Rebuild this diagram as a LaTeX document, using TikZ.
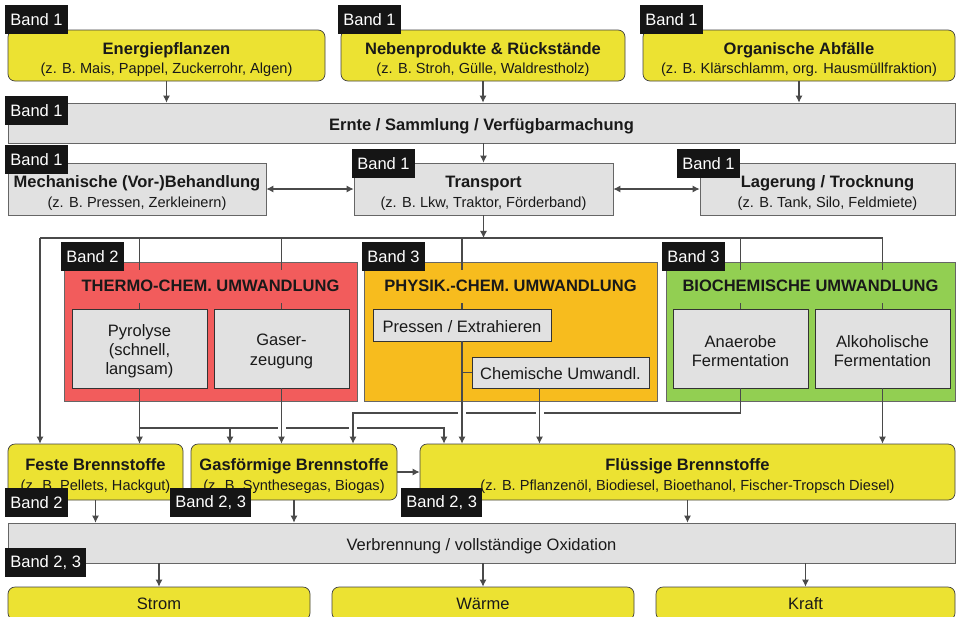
\documentclass[tikz,border=0pt]{standalone}
\usepackage{fontspec}
\setmainfont{Liberation Sans}
\usetikzlibrary{arrows.meta}
\definecolor{boxyellow}{HTML}{ECE232}
\definecolor{boxgray}{HTML}{E1E1E1}
\definecolor{thermored}{HTML}{F25C5C}
\definecolor{physorange}{HTML}{F7BC1E}
\definecolor{biogreen}{HTML}{92CF52}
\definecolor{bandblack}{HTML}{151515}
\definecolor{linegray}{HTML}{4A4A4A}
\newcommand{\subtxt}[1]{{\fontsize{8.3}{11}\selectfont #1}}
\newcommand{\lift}[1][11.5pt]{\rule{0pt}{#1}}

\begin{document}
\begin{tikzpicture}[
    x=0.02cm, y=-0.02cm,
    sz/.style 2 args={minimum width=#1*0.02cm, minimum height=#2*0.02cm},
    base/.style={inner sep=0pt, align=center, text=black!90, font=\fontsize{9.4}{11}\selectfont},
    ybox/.style={base, draw=black!75, fill=boxyellow, rounded corners=0.14cm},
    gbox/.style={base, draw=black!60, fill=boxgray},
    ibox/.style={base, draw=black!80, fill=boxgray},
    cbox/.style={draw=black!60, inner sep=0pt},
    gtitle/.style={base, font=\bfseries\fontsize{9.4}{11}\selectfont, minimum height=0.66cm, inner xsep=2pt},
    band/.style={fill=bandblack, text=white, anchor=north west, inner xsep=0.1cm, inner ysep=0pt,
                 minimum height=0.57cm, font=\fontsize{9.4}{11}\selectfont},
    conn/.style={draw=linegray, line width=0.6pt},
    arr/.style={conn, -{Latex[length=4pt,width=4pt]}},
    darr/.style={conn, {Latex[length=4pt,width=4pt]}-{Latex[length=4pt,width=4pt]}},
    hop/.style={draw=white, line width=0.16cm}
  ]
  \useasboundingbox (0,0) rectangle (957,616);

  \node[ybox, sz={317}{51}] (energie) at (166.5,55.5) {\lift{\bfseries Energiepflanzen}\\\subtxt{(z. B. Mais, Pappel, Zuckerrohr, Algen)}};
  \node[ybox, sz={284}{51}] (neben) at (483,55.5) {\lift{\bfseries Nebenprodukte \& Rückstände}\\\subtxt{(z. B. Stroh, Gülle, Waldrestholz)}};
  \node[ybox, sz={312}{51}] (organ) at (799,55.5) {\lift{\bfseries Organische Abfälle}\\\subtxt{(z. B. Klärschlamm, org. Hausmüllfraktion)}};
  \node[gbox, sz={947}{40}] (ernte) at (481.5,123) {\lift[10.5pt]\bfseries Ernte / Sammlung / Verfügbarmachung};
  \node[gbox, sz={258}{52}] (mech) at (137,189) {\lift{\bfseries Mechanische (Vor-)Behandlung}\\\subtxt{(z. B. Pressen, Zerkleinern)}};
  \node[gbox, sz={259}{52}] (trans) at (483.5,189) {\lift{\bfseries Transport}\\\subtxt{(z. B. Lkw, Traktor, Förderband)}};
  \node[gbox, sz={255}{52}] (lager) at (827.5,189) {\lift{\bfseries Lagerung / Trocknung}\\\subtxt{(z. B. Tank, Silo, Feldmiete)}};

  \node[cbox, fill=thermored, sz={293}{139}] (thermo) at (210.5,331.5) {};
  \node[cbox, fill=physorange, sz={293}{139}] (physik) at (510.5,331.5) {};
  \node[cbox, fill=biogreen, sz={289}{139}] (bio) at (810.5,331.5) {};
  \node[ibox, sz={135}{79}] (pyro) at (139.5,348.5) {\lift[9.8pt]Pyrolyse\\(schnell,\\langsam)};
  \node[ibox, sz={135}{79}] (gaser) at (281.5,348.5) {\lift[9.8pt]Gaser-\\zeugung};
  \node[ibox, sz={178}{32}] (pressen) at (462,325) {\lift[8.2pt]Pressen / Extrahieren};
  \node[ibox, sz={177}{31}] (chem) at (560.5,372.5) {\lift[8.2pt]Chemische Umwandl.};
  \node[ibox, sz={135}{79}] (anaer) at (740.5,348.5) {\lift[9.8pt]Anaerobe\\Fermentation};
  \node[ibox, sz={135}{79}] (alkoh) at (882.5,348.5) {\lift[9.8pt]Alkoholische\\Fermentation};

  \node[ybox, sz={175}{56}] (feste) at (95.5,472) {\lift{\bfseries Feste Brennstoffe}\\\subtxt{(z. B. Pellets, Hackgut)}};
  \node[ybox, sz={206}{56}] (gasf) at (294,472) {\lift{\bfseries Gasförmige Brennstoffe}\\\subtxt{(z. B. Synthesegas, Biogas)}};
  \node[ybox, sz={535}{56}] (fluess) at (687.5,472) {\lift{\bfseries Flüssige Brennstoffe}\\\subtxt{(z. B. Pflanzenöl, Biodiesel, Bioethanol, Fischer-Tropsch Diesel)}};
  \node[gbox, sz={947}{40}] (verbr) at (481.5,543) {\lift[10.5pt]Verbrennung / vollständige Oxidation};
  \node[ybox, sz={302}{33}] (strom) at (159,603.5) {Strom};
  \node[ybox, sz={302}{33}] (waerme) at (483,603.5) {Wärme};
  \node[ybox, sz={299}{33}] (kraft) at (805.5,603.5) {Kraft};

  \coordinate (busL) at (40,238);
  \coordinate (busR) at (882.5,238);
  \coordinate (pbA) at (139.5,428);
  \coordinate (pbB) at (230,428);
  \coordinate (pbC) at (444,428);
  \coordinate (ab) at (353,413);
  \coordinate (chemout) at ([xshift=-0.42cm]chem.south);

  \draw[arr] (energie) -- (energie |- ernte.north);
  \draw[arr] (neben) -- (neben |- ernte.north);
  \draw[arr] (organ) -- (organ |- ernte.north);
  \draw[arr] (trans |- ernte.south) -- (trans.north);
  \draw[darr] (mech.east) -- (trans.west);
  \draw[darr] (trans.east) -- (lager.west);
  \draw[arr] (trans.south) -- (trans |- busL);
  \draw[conn] (busL) -- (busR);
  \draw[arr] (busL) -- (busL |- feste.north);
  \draw[conn] (pyro |- busL) -- (pyro.north);
  \draw[conn] (gaser |- busL) -- (gaser.north);
  \draw[conn] (pressen |- busL) -- (pressen.north);
  \draw[conn] (anaer |- busL) -- (anaer.north);
  \draw[conn] (busR) -- (alkoh.north);

  \draw[arr] (pyro.south) -- (pyro.south |- feste.north);
  \draw[arr] (pbA) -| (pbC |- fluess.north);
  \draw[arr] (pbB) -- (pbB |- gasf.north);
  \draw[hop] (gaser.south |- pbA) ++(0,-3) -- ++(0,6);
  \draw[hop] (ab |- pbA) ++(0,-3) -- ++(0,6);
  \draw[arr] (anaer.south) |- (ab) -- (ab |- gasf.north);
  \draw[hop] (pressen.south |- ab) ++(0,-3) -- ++(0,6);
  \draw[hop] (chemout |- ab) ++(0,-3) -- ++(0,6);
  \draw[arr] (gaser.south) -- (gaser.south |- gasf.north);
  \draw[arr] (pressen.south) -- (pressen.south |- fluess.north);
  \draw[conn] (pressen.south |- chem.west) -- (chem.west);
  \draw[arr] (chemout) -- (chemout |- fluess.north);
  \draw[arr] (alkoh.south) -- (alkoh.south |- fluess.north);
  \draw[arr] (gasf.east) -- (fluess.west |- gasf.east);

  \draw[arr] (feste.south) -- (feste.south |- verbr.north);
  \draw[arr] (gasf.south) -- (gasf.south |- verbr.north);
  \draw[arr] (fluess.south) -- (fluess.south |- verbr.north);
  \draw[arr] (strom |- verbr.south) -- (strom.north);
  \draw[arr] (waerme |- verbr.south) -- (waerme.north);
  \draw[arr] (kraft |- verbr.south) -- (kraft.north);

  \node[gtitle, fill=thermored] (tthermo) at (210.5,286) {THERMO-CHEM. UMWANDLUNG};
  \node[gtitle, fill=physorange] (tphysik) at (510.5,286) {PHYSIK.-CHEM. UMWANDLUNG};
  \node[gtitle, fill=biogreen] (tbio) at (810.5,286) {BIOCHEMISCHE UMWANDLUNG};

  \node[band] (benergie) at (5,5) {Band 1};
  \node[band] (bneben) at (338,5) {Band 1};
  \node[band] (borgan) at (640,5) {Band 1};
  \node[band] (bernte) at (5,96) {Band 1};
  \node[band] (bmech) at (5,145) {Band 1};
  \node[band] (btrans) at (352,149) {Band 1};
  \node[band] (blager) at (677,149) {Band 1};
  \node[band] (bthermo) at (61,242) {Band 2};
  \node[band] (bphysik) at (362,242) {Band 3};
  \node[band] (bbio) at (662,242) {Band 3};
  \node[band] (bfeste) at (5,488) {Band 2};
  \node[band] (bgasf) at (170,488) {Band 2, 3};
  \node[band] (bfluess) at (401,488) {Band 2, 3};
  \node[band] (bverbr) at (5,548) {Band 2, 3};
\end{tikzpicture}
\end{document}
